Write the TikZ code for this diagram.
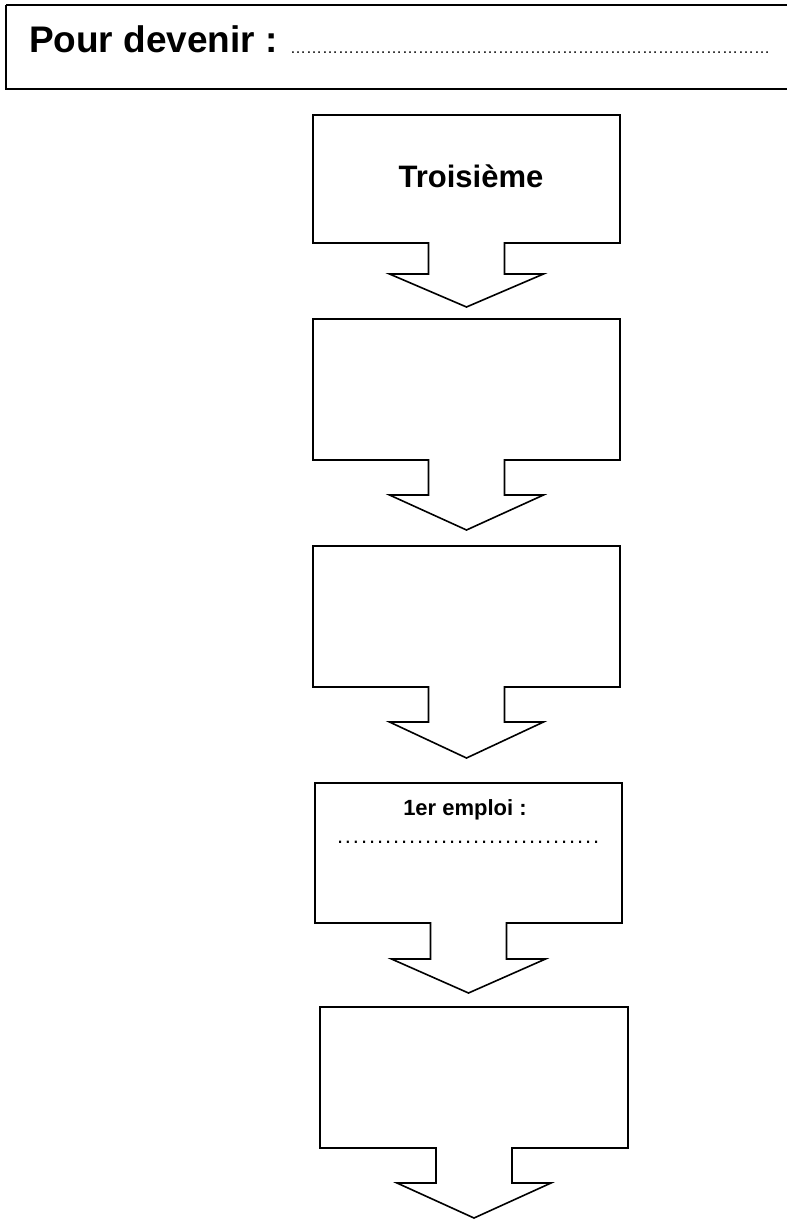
\documentclass[tikz,border=0pt]{standalone}
\usepackage{fontspec}
\setmainfont{Liberation Sans}
\newcommand\dotsrow[2]{\foreach \i in {1,...,#1}{#2}}
\begin{document}
\begin{tikzpicture}[x=1pt,y=-1pt,
  frame/.style={draw=black,line width=1.6pt,line join=miter},
  titlebox/.style={draw=black,line width=2.2pt},
  txt/.style={inner sep=0pt,outer sep=0pt}]
\useasboundingbox (0,0) rectangle (787,1219);
\clip (0,0) rectangle (787,1219);
\fill[white] (0,0) rectangle (787,1219);
% title box
\draw[titlebox] (6,5) -- (800,5) (800,89) -- (6,89) -- (6,5);
\node[txt,anchor=base west] (title) at (29,52) {\fontsize{37}{40}\selectfont\bfseries Pour devenir :};
\node[txt,anchor=base west] (titledots) at (290,53) {\fontsize{16}{18}\selectfont\dotsrow{30}{…}};
% arrow boxes: L, R, T, B, stem bottom, tip
\foreach \L/\R/\T/\B/\S/\P/\n in {313/620/115/243/274/307/1,313/620/319/460/495/530/2,313/620/546/687/722/758/3,315/622/783/923/959/993/4,320/628/1007/1148/1183/1218/5}{
  \pgfmathsetmacro\c{(\L+\R)/2}
  \draw[frame] (\L,\T) -- (\R,\T) -- (\R,\B) -- (\c+38,\B) -- (\c+38,\S) -- (\c+77,\S) -- (\c,\P) -- (\c-77,\S) -- (\c-38,\S) -- (\c-38,\B) -- (\L,\B) -- cycle;
  \coordinate (box\n) at (\c,\T);
}
\node[txt,anchor=base] (troisieme) at (471,187) {\fontsize{31}{34}\selectfont\bfseries Troisième};
\node[txt,anchor=base] (emploi) at (465,815) {\fontsize{22}{24}\selectfont\bfseries 1er emploi :};
\node[txt,anchor=base west] (emploidots) at (337,843) {\fontsize{22}{24}\selectfont\dotsrow{33}{\makebox[8pt][l]{.}}};
\end{tikzpicture}
\end{document}
